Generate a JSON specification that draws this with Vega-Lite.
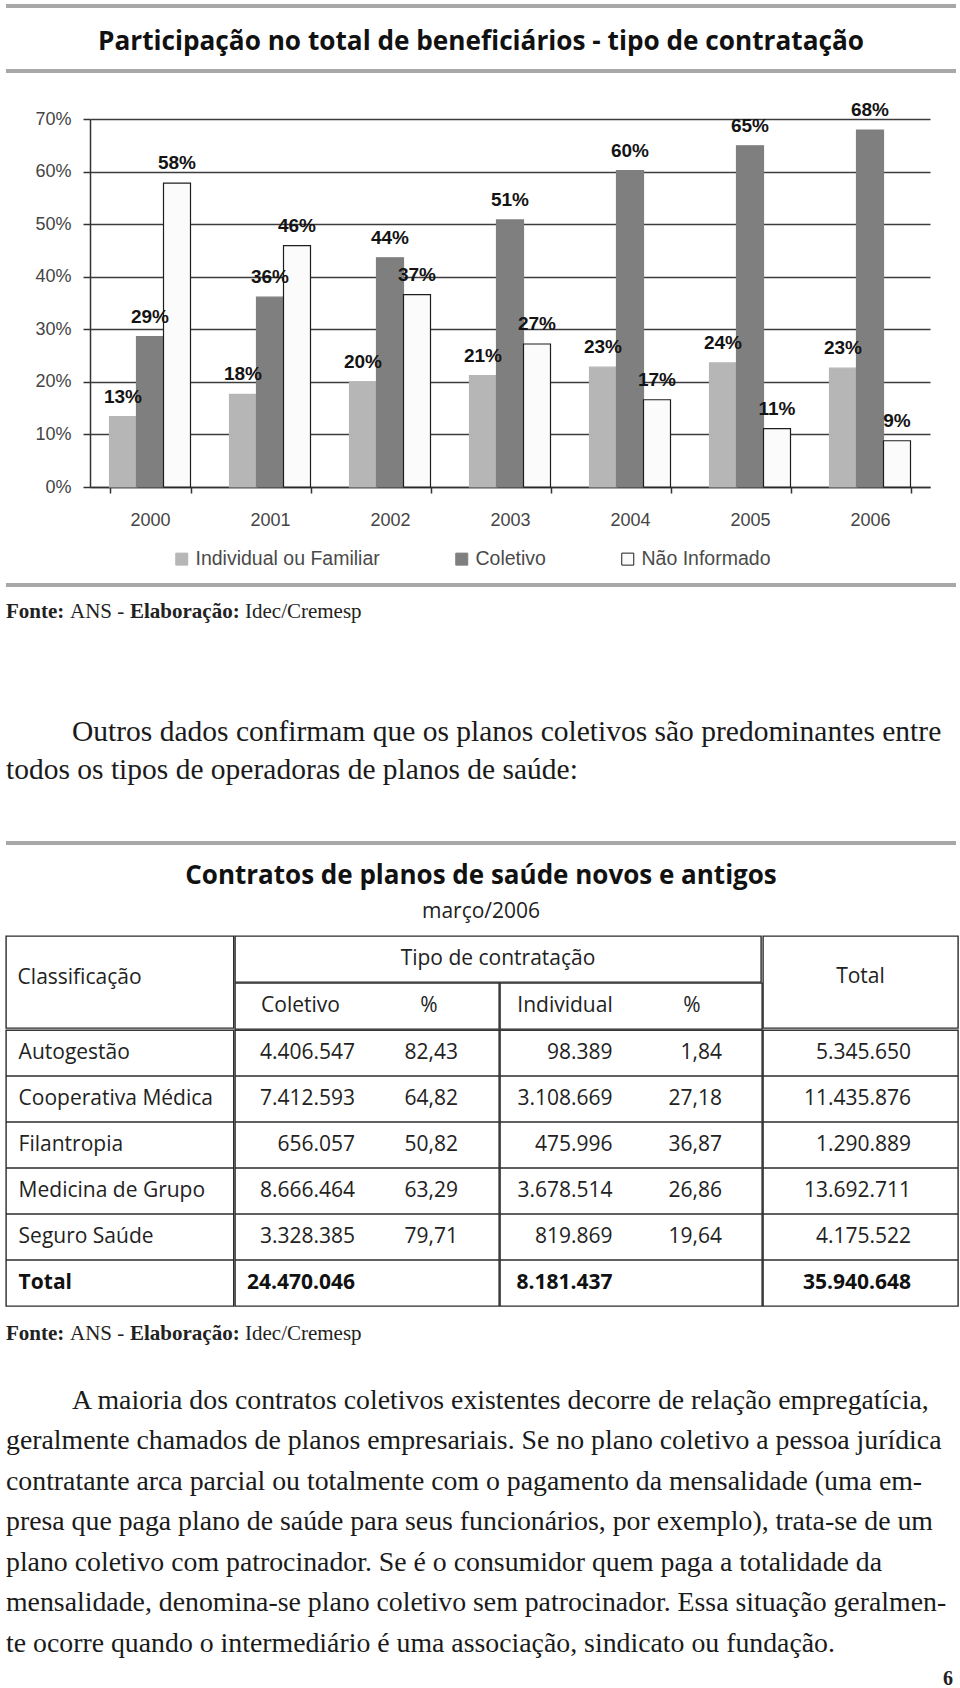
{
  "$schema": "https://vega.github.io/schema/vega-lite/v6.json",
  "background": "white",
  "padding": {"left": 5, "top": 4, "right": 5, "bottom": 0},
  "autosize": {"type": "pad"},
  "spacing": 0,
  "datasets": {
    "titulos": [
      {"id": "grafico", "texto": "Participação no total de beneficiários - tipo de contratação"},
      {"id": "tabela", "texto": "Contratos de planos de saúde novos e antigos"},
      {"id": "periodo", "texto": "março/2006"},
      {"id": "pagina", "texto": "6"}
    ],
    "barras": [
      {"ano": "2000", "tipo": "Individual ou Familiar", "valor": 0.134},
      {"ano": "2000", "tipo": "Coletivo", "valor": 0.286},
      {"ano": "2000", "tipo": "Não Informado", "valor": 0.578},
      {"ano": "2001", "tipo": "Individual ou Familiar", "valor": 0.176},
      {"ano": "2001", "tipo": "Coletivo", "valor": 0.361},
      {"ano": "2001", "tipo": "Não Informado", "valor": 0.459},
      {"ano": "2002", "tipo": "Individual ou Familiar", "valor": 0.2},
      {"ano": "2002", "tipo": "Coletivo", "valor": 0.436},
      {"ano": "2002", "tipo": "Não Informado", "valor": 0.366},
      {"ano": "2003", "tipo": "Individual ou Familiar", "valor": 0.212},
      {"ano": "2003", "tipo": "Coletivo", "valor": 0.508},
      {"ano": "2003", "tipo": "Não Informado", "valor": 0.272},
      {"ano": "2004", "tipo": "Individual ou Familiar", "valor": 0.228},
      {"ano": "2004", "tipo": "Coletivo", "valor": 0.602},
      {"ano": "2004", "tipo": "Não Informado", "valor": 0.166},
      {"ano": "2005", "tipo": "Individual ou Familiar", "valor": 0.236},
      {"ano": "2005", "tipo": "Coletivo", "valor": 0.649},
      {"ano": "2005", "tipo": "Não Informado", "valor": 0.111},
      {"ano": "2006", "tipo": "Individual ou Familiar", "valor": 0.226},
      {"ano": "2006", "tipo": "Coletivo", "valor": 0.679},
      {"ano": "2006", "tipo": "Não Informado", "valor": 0.088}
    ],
    "fonte": [
      {"parte": "rotulo1", "texto": "Fonte:"},
      {"parte": "valor1", "texto": "ANS -"},
      {"parte": "rotulo2", "texto": "Elaboração:"},
      {"parte": "valor2", "texto": "Idec/Cremesp"}
    ],
    "texto": [
      {"bloco": "p1", "linha": 1, "inicio": "parágrafo", "texto": "Outros dados confirmam que os planos coletivos são predominantes entre"},
      {"bloco": "p1", "linha": 2, "inicio": "continuação", "texto": "todos os tipos de operadoras de planos de saúde:"},
      {"bloco": "p2", "linha": 1, "inicio": "parágrafo", "texto": "A maioria dos contratos coletivos existentes decorre de relação empregatícia,"},
      {"bloco": "p2", "linha": 2, "inicio": "continuação", "texto": "geralmente chamados de planos empresariais. Se no plano coletivo a pessoa jurídica"},
      {"bloco": "p2", "linha": 3, "inicio": "continuação", "texto": "contratante arca parcial ou totalmente com o pagamento da mensalidade (uma em-"},
      {"bloco": "p2", "linha": 4, "inicio": "continuação", "texto": "presa que paga plano de saúde para seus funcionários, por exemplo), trata-se de um"},
      {"bloco": "p2", "linha": 5, "inicio": "continuação", "texto": "plano coletivo com patrocinador. Se é o consumidor quem paga a totalidade da"},
      {"bloco": "p2", "linha": 6, "inicio": "continuação", "texto": "mensalidade, denomina-se plano coletivo sem patrocinador. Essa situação geralmen-"},
      {"bloco": "p2", "linha": 7, "inicio": "continuação", "texto": "te ocorre quando o intermediário é uma associação, sindicato ou fundação."}
    ],
    "cabecalho": [
      {"campo": "classificacao", "rotulo": "Classificação"},
      {"campo": "tipo", "rotulo": "Tipo de contratação"},
      {"campo": "coletivo", "rotulo": "Coletivo"},
      {"campo": "pct_coletivo", "rotulo": "%"},
      {"campo": "individual", "rotulo": "Individual"},
      {"campo": "pct_individual", "rotulo": "%"},
      {"campo": "total", "rotulo": "Total"}
    ],
    "tabela": [
      {"classe": "Autogestão", "coletivo": 4406547, "pct_coletivo": 82.43, "individual": 98389, "pct_individual": 1.84, "total": 5345650},
      {"classe": "Cooperativa Médica", "coletivo": 7412593, "pct_coletivo": 64.82, "individual": 3108669, "pct_individual": 27.18, "total": 11435876},
      {"classe": "Filantropia", "coletivo": 656057, "pct_coletivo": 50.82, "individual": 475996, "pct_individual": 36.87, "total": 1290889},
      {"classe": "Medicina de Grupo", "coletivo": 8666464, "pct_coletivo": 63.29, "individual": 3678514, "pct_individual": 26.86, "total": 13692711},
      {"classe": "Seguro Saúde", "coletivo": 3328385, "pct_coletivo": 79.71, "individual": 819869, "pct_individual": 19.64, "total": 4175522},
      {"classe": "Total", "coletivo": 24470046, "pct_coletivo": null, "individual": 8181437, "pct_individual": null, "total": 35940648}
    ]
  },
  "vconcat": [
    {"width": 950, "height": 4, "view": {"fill": "#a8a8a8", "stroke": null}, "data": {"values": []}, "mark": "point"},
    {
      "width": 950, "height": 61,
      "data": {"name": "titulos"},
      "transform": [{"filter": "datum.id === 'grafico'"}],
      "mark": {"type": "text", "font": "Open Sans", "fontWeight": "bold", "fontSize": 26.2, "baseline": "alphabetic", "dy": 11.5, "color": "#111111"},
      "encoding": {"text": {"field": "texto", "type": "nominal"}}
    },
    {"width": 950, "height": 4, "view": {"fill": "#a8a8a8", "stroke": null}, "data": {"values": []}, "mark": "point"},
    {
      "width": 950, "height": 510,
      "data": {"name": "barras"},
      "encoding": {
        "x": {
          "field": "ano", "type": "nominal",
          "scale": {"range": [84, 924], "paddingInner": 0.325, "paddingOuter": 0.1625},
          "axis": {"title": null, "offset": -96, "labelAngle": 0, "labelFont": "Liberation Sans", "labelFontSize": 18, "labelColor": "#454545", "labelPadding": 18, "tickBand": "extent", "tickSize": 6, "tickColor": "#333333", "tickWidth": 1.5, "domainColor": "#333333", "domainWidth": 1.5, "grid": false}
        },
        "xOffset": {
          "field": "tipo", "type": "nominal",
          "scale": {"domain": ["Individual ou Familiar", "Coletivo", "Não Informado"], "paddingInner": 0, "paddingOuter": 0}
        },
        "y": {
          "field": "valor", "type": "quantitative",
          "scale": {"domain": [0, 0.7], "nice": false, "range": [414, 46]},
          "axis": {"title": null, "offset": -84, "format": ".0%", "values": [0, 0.1, 0.2, 0.3, 0.4, 0.5, 0.6, 0.7], "labelFont": "Liberation Sans", "labelFontSize": 18, "labelColor": "#454545", "labelPadding": 12, "tickSize": 7, "tickColor": "#333333", "tickWidth": 1.5, "domainColor": "#333333", "domainWidth": 1.5, "grid": true, "gridColor": "#3c3c3c", "gridWidth": 1.3}
        }
      },
      "layer": [
        {
          "mark": {"type": "bar", "strokeWidth": 1.2},
          "encoding": {
            "color": {
              "field": "tipo", "type": "nominal",
              "scale": {"domain": ["Individual ou Familiar", "Coletivo", "Não Informado"], "range": ["#b6b6b6", "#7f7f7f", "#fbfbfb"]},
              "legend": {"title": null, "orient": "none", "legendX": 166, "legendY": 545, "direction": "horizontal", "padding": 0, "symbolType": "square", "symbolSize": 144, "symbolStrokeWidth": 1, "labelFont": "Liberation Sans", "labelFontSize": 19.5, "labelColor": "#4a4a4a", "labelOffset": 4, "labelLimit": 400, "columnPadding": 72}
            },
            "stroke": {
              "field": "tipo", "type": "nominal",
              "scale": {"domain": ["Individual ou Familiar", "Coletivo", "Não Informado"], "range": ["#b6b6b6", "#7f7f7f", "#1e1e1e"]},
              "legend": {"title": null, "orient": "none", "legendX": 166, "legendY": 545, "direction": "horizontal", "padding": 0, "symbolType": "square", "symbolSize": 144, "symbolStrokeWidth": 1, "labelFont": "Liberation Sans", "labelFontSize": 19.5, "labelColor": "#4a4a4a", "labelOffset": 4, "labelLimit": 400, "columnPadding": 72}
            }
          }
        },
        {
          "mark": {"type": "text", "font": "Liberation Sans", "fontWeight": "bold", "fontSize": 19, "baseline": "alphabetic", "dy": -14, "color": "#141414"},
          "encoding": {"text": {"field": "valor", "type": "quantitative", "format": ".0%"}}
        }
      ]
    },
    {"width": 950, "height": 4, "view": {"fill": "#a8a8a8", "stroke": null}, "data": {"values": []}, "mark": "point"},
    {
      "spacing": 0,
      "hconcat": [
        {"width": 63.6, "height": 53, "data": {"name": "fonte"}, "transform": [{"filter": "datum.parte === 'rotulo1'"}], "mark": {"type": "text", "font": "Liberation Serif", "fontSize": 21, "fontWeight": "bold", "align": "left", "baseline": "alphabetic", "dy": 4, "color": "#222222"}, "encoding": {"text": {"field": "texto", "type": "nominal"}, "x": {"field": "parte", "type": "nominal", "scale": {"type": "point", "range": [0, 0]}, "axis": null}}},
        {"width": 59.5, "height": 53, "data": {"name": "fonte"}, "transform": [{"filter": "datum.parte === 'valor1'"}], "mark": {"type": "text", "font": "Liberation Serif", "fontSize": 21, "align": "left", "baseline": "alphabetic", "dy": 4, "color": "#222222"}, "encoding": {"text": {"field": "texto", "type": "nominal"}, "x": {"field": "parte", "type": "nominal", "scale": {"type": "point", "range": [0, 0]}, "axis": null}}},
        {"width": 114.9, "height": 53, "data": {"name": "fonte"}, "transform": [{"filter": "datum.parte === 'rotulo2'"}], "mark": {"type": "text", "font": "Liberation Serif", "fontSize": 21, "fontWeight": "bold", "align": "left", "baseline": "alphabetic", "dy": 4, "color": "#222222"}, "encoding": {"text": {"field": "texto", "type": "nominal"}, "x": {"field": "parte", "type": "nominal", "scale": {"type": "point", "range": [0, 0]}, "axis": null}}},
        {"width": 116.6, "height": 53, "data": {"name": "fonte"}, "transform": [{"filter": "datum.parte === 'valor2'"}], "mark": {"type": "text", "font": "Liberation Serif", "fontSize": 21, "align": "left", "baseline": "alphabetic", "dy": 4, "color": "#222222"}, "encoding": {"text": {"field": "texto", "type": "nominal"}, "x": {"field": "parte", "type": "nominal", "scale": {"type": "point", "range": [0, 0]}, "axis": null}}}
      ]
    },
    {"width": 950, "height": 72, "data": {"values": []}, "mark": "point"},
    {
      "width": 950, "height": 77,
      "data": {"name": "texto"},
      "transform": [{"filter": "datum.bloco === 'p1'"}],
      "mark": {"type": "text", "font": "Liberation Serif", "fontSize": 29.5, "align": "left", "baseline": "alphabetic", "dy": 9.5, "color": "#1a1a1a"},
      "encoding": {
        "text": {"field": "texto", "type": "nominal"},
        "x": {"field": "inicio", "type": "nominal", "scale": {"type": "point", "domain": ["continuação", "parágrafo"], "range": [0, 66], "padding": 0}, "axis": null},
        "y": {"field": "linha", "type": "ordinal", "scale": {"type": "band", "paddingInner": 0, "paddingOuter": 0}, "axis": null}
      }
    },
    {"width": 950, "height": 52, "data": {"values": []}, "mark": "point"},
    {"width": 950, "height": 4, "view": {"fill": "#a8a8a8", "stroke": null}, "data": {"values": []}, "mark": "point"},
    {
      "width": 950, "height": 52,
      "data": {"name": "titulos"},
      "transform": [{"filter": "datum.id === 'tabela'"}],
      "mark": {"type": "text", "font": "Open Sans", "fontWeight": "bold", "fontSize": 26, "baseline": "alphabetic", "dy": 13, "color": "#111111"},
      "encoding": {"text": {"field": "texto", "type": "nominal"}}
    },
    {
      "width": 950, "height": 37.6,
      "data": {"name": "titulos"},
      "transform": [{"filter": "datum.id === 'periodo'"}],
      "mark": {"type": "text", "font": "Open Sans", "fontSize": 21, "baseline": "alphabetic", "dy": 1.8, "color": "#222222"},
      "encoding": {"text": {"field": "texto", "type": "nominal"}}
    },
    {
      "spacing": -2.8,
      "vconcat": [
        {
          "spacing": -2.8,
          "hconcat": [
            {
              "width": 227.6, "height": 92,
              "view": {"stroke": "#2b2b2b", "strokeWidth": 1.4},
              "data": {"name": "cabecalho"},
              "transform": [{"filter": "datum.campo === 'classificacao'"}],
              "mark": {"type": "text", "font": "Open Sans", "fontSize": 21, "align": "left", "baseline": "middle", "dy": -4, "color": "#222222"},
              "encoding": {"text": {"field": "rotulo", "type": "nominal"}, "x": {"field": "campo", "type": "nominal", "scale": {"type": "point", "range": [11.6, 11.6]}, "axis": null}}
            },
            {
              "spacing": -2.8,
              "vconcat": [
                {
                  "width": 526, "height": 46,
                  "view": {"stroke": "#2b2b2b", "strokeWidth": 1.4},
                  "data": {"name": "cabecalho"},
                  "transform": [{"filter": "datum.campo === 'tipo'"}],
                  "mark": {"type": "text", "font": "Open Sans", "fontSize": 21, "baseline": "middle", "color": "#222222"},
                  "encoding": {"text": {"field": "rotulo", "type": "nominal"}}
                },
                {
                  "spacing": -2.8,
                  "hconcat": [
                    {
                      "width": 264, "height": 46,
                      "view": {"stroke": "#2b2b2b", "strokeWidth": 1.4},
                      "data": {"name": "cabecalho"},
                      "transform": [{"filter": "datum.campo === 'coletivo' || datum.campo === 'pct_coletivo'"}],
                      "mark": {"type": "text", "font": "Open Sans", "fontSize": 21, "baseline": "middle", "color": "#222222"},
                      "encoding": {"text": {"field": "rotulo", "type": "nominal"}, "x": {"field": "campo", "type": "nominal", "scale": {"type": "point", "domain": ["coletivo", "pct_coletivo"], "range": [65.5, 194], "padding": 0}, "axis": null}}
                    },
                    {
                      "width": 262, "height": 46,
                      "view": {"stroke": "#2b2b2b", "strokeWidth": 1.4},
                      "data": {"name": "cabecalho"},
                      "transform": [{"filter": "datum.campo === 'individual' || datum.campo === 'pct_individual'"}],
                      "mark": {"type": "text", "font": "Open Sans", "fontSize": 21, "baseline": "middle", "color": "#222222"},
                      "encoding": {"text": {"field": "rotulo", "type": "nominal"}, "x": {"field": "campo", "type": "nominal", "scale": {"type": "point", "domain": ["individual", "pct_individual"], "range": [65, 192], "padding": 0}, "axis": null}}
                    }
                  ]
                }
              ]
            },
            {
              "width": 195, "height": 92,
              "view": {"stroke": "#2b2b2b", "strokeWidth": 1.4},
              "data": {"name": "cabecalho"},
              "transform": [{"filter": "datum.campo === 'total'"}],
              "mark": {"type": "text", "font": "Open Sans", "fontSize": 21, "baseline": "middle", "dy": -5, "color": "#222222"},
              "encoding": {"text": {"field": "rotulo", "type": "nominal"}}
            }
          ]
        },
        {
          "spacing": -2.8,
          "hconcat": [
            {
              "width": 227.6, "height": 276,
              "view": {"stroke": "#2b2b2b", "strokeWidth": 1.4},
              "data": {"name": "tabela"},
              "encoding": {"y": {"field": "classe", "type": "nominal", "scale": {"domain": ["Autogestão", "Cooperativa Médica", "Filantropia", "Medicina de Grupo", "Seguro Saúde", "Total"], "paddingInner": 0, "paddingOuter": 0}, "axis": null}},
              "layer": [
                {"mark": {"type": "rule", "color": "#2b2b2b", "strokeWidth": 1.4, "clip": true}, "encoding": {"y": {"field": "classe", "type": "nominal", "bandPosition": 0, "scale": {"domain": ["Autogestão", "Cooperativa Médica", "Filantropia", "Medicina de Grupo", "Seguro Saúde", "Total"], "paddingInner": 0, "paddingOuter": 0}, "axis": null}}},
                {"transform": [{"filter": "datum.classe !== 'Total'"}], "mark": {"type": "text", "font": "Open Sans", "fontSize": 21, "align": "left", "baseline": "middle", "color": "#222222"}, "encoding": {"text": {"field": "classe", "type": "nominal"}, "x": {"datum": "classe", "type": "nominal", "scale": {"type": "point", "range": [12.6, 12.6]}, "axis": null}}},
                {"transform": [{"filter": "datum.classe === 'Total'"}], "mark": {"type": "text", "font": "Open Sans", "fontWeight": "bold", "fontSize": 21, "align": "left", "baseline": "middle", "color": "#111111"}, "encoding": {"text": {"field": "classe", "type": "nominal"}, "x": {"datum": "classe", "type": "nominal", "scale": {"type": "point", "range": [12.6, 12.6]}, "axis": null}}}
              ]
            },
            {
              "width": 264, "height": 276,
              "view": {"stroke": "#2b2b2b", "strokeWidth": 1.4},
              "data": {"name": "tabela"},
              "encoding": {"y": {"field": "classe", "type": "nominal", "scale": {"domain": ["Autogestão", "Cooperativa Médica", "Filantropia", "Medicina de Grupo", "Seguro Saúde", "Total"], "paddingInner": 0, "paddingOuter": 0}, "axis": null}},
              "layer": [
                {"mark": {"type": "rule", "color": "#2b2b2b", "strokeWidth": 1.4, "clip": true}, "encoding": {"y": {"field": "classe", "type": "nominal", "bandPosition": 0, "scale": {"domain": ["Autogestão", "Cooperativa Médica", "Filantropia", "Medicina de Grupo", "Seguro Saúde", "Total"], "paddingInner": 0, "paddingOuter": 0}, "axis": null}}},
                {"transform": [{"filter": "datum.classe !== 'Total'"}], "mark": {"type": "text", "font": "Open Sans", "fontSize": 21, "align": "right", "baseline": "middle", "color": "#222222"}, "encoding": {"text": {"field": "coletivo", "type": "quantitative", "format": ",d"}, "x": {"datum": "coletivo", "type": "nominal", "scale": {"type": "point", "domain": ["coletivo", "pct_coletivo"], "range": [120, 223], "padding": 0}, "axis": null}}},
                {"transform": [{"filter": "datum.classe === 'Total'"}], "mark": {"type": "text", "font": "Open Sans", "fontWeight": "bold", "fontSize": 21, "align": "right", "baseline": "middle", "color": "#111111"}, "encoding": {"text": {"field": "coletivo", "type": "quantitative", "format": ",d"}, "x": {"datum": "coletivo", "type": "nominal", "scale": {"type": "point", "domain": ["coletivo", "pct_coletivo"], "range": [120, 223], "padding": 0}, "axis": null}}},
                {"transform": [{"filter": "datum.classe !== 'Total'"}], "mark": {"type": "text", "font": "Open Sans", "fontSize": 21, "align": "right", "baseline": "middle", "color": "#222222"}, "encoding": {"text": {"field": "pct_coletivo", "type": "quantitative", "format": ".2f"}, "x": {"datum": "pct_coletivo", "type": "nominal", "scale": {"type": "point", "domain": ["coletivo", "pct_coletivo"], "range": [120, 223], "padding": 0}, "axis": null}}}
              ]
            },
            {
              "width": 262, "height": 276,
              "view": {"stroke": "#2b2b2b", "strokeWidth": 1.4},
              "data": {"name": "tabela"},
              "encoding": {"y": {"field": "classe", "type": "nominal", "scale": {"domain": ["Autogestão", "Cooperativa Médica", "Filantropia", "Medicina de Grupo", "Seguro Saúde", "Total"], "paddingInner": 0, "paddingOuter": 0}, "axis": null}},
              "layer": [
                {"mark": {"type": "rule", "color": "#2b2b2b", "strokeWidth": 1.4, "clip": true}, "encoding": {"y": {"field": "classe", "type": "nominal", "bandPosition": 0, "scale": {"domain": ["Autogestão", "Cooperativa Médica", "Filantropia", "Medicina de Grupo", "Seguro Saúde", "Total"], "paddingInner": 0, "paddingOuter": 0}, "axis": null}}},
                {"transform": [{"filter": "datum.classe !== 'Total'"}], "mark": {"type": "text", "font": "Open Sans", "fontSize": 21, "align": "right", "baseline": "middle", "color": "#222222"}, "encoding": {"text": {"field": "individual", "type": "quantitative", "format": ",d"}, "x": {"datum": "individual", "type": "nominal", "scale": {"type": "point", "domain": ["individual", "pct_individual"], "range": [112.5, 222], "padding": 0}, "axis": null}}},
                {"transform": [{"filter": "datum.classe === 'Total'"}], "mark": {"type": "text", "font": "Open Sans", "fontWeight": "bold", "fontSize": 21, "align": "right", "baseline": "middle", "color": "#111111"}, "encoding": {"text": {"field": "individual", "type": "quantitative", "format": ",d"}, "x": {"datum": "individual", "type": "nominal", "scale": {"type": "point", "domain": ["individual", "pct_individual"], "range": [112.5, 222], "padding": 0}, "axis": null}}},
                {"transform": [{"filter": "datum.classe !== 'Total'"}], "mark": {"type": "text", "font": "Open Sans", "fontSize": 21, "align": "right", "baseline": "middle", "color": "#222222"}, "encoding": {"text": {"field": "pct_individual", "type": "quantitative", "format": ".2f"}, "x": {"datum": "pct_individual", "type": "nominal", "scale": {"type": "point", "domain": ["individual", "pct_individual"], "range": [112.5, 222], "padding": 0}, "axis": null}}}
              ]
            },
            {
              "width": 195, "height": 276,
              "view": {"stroke": "#2b2b2b", "strokeWidth": 1.4},
              "data": {"name": "tabela"},
              "encoding": {"y": {"field": "classe", "type": "nominal", "scale": {"domain": ["Autogestão", "Cooperativa Médica", "Filantropia", "Medicina de Grupo", "Seguro Saúde", "Total"], "paddingInner": 0, "paddingOuter": 0}, "axis": null}},
              "layer": [
                {"mark": {"type": "rule", "color": "#2b2b2b", "strokeWidth": 1.4, "clip": true}, "encoding": {"y": {"field": "classe", "type": "nominal", "bandPosition": 0, "scale": {"domain": ["Autogestão", "Cooperativa Médica", "Filantropia", "Medicina de Grupo", "Seguro Saúde", "Total"], "paddingInner": 0, "paddingOuter": 0}, "axis": null}}},
                {"transform": [{"filter": "datum.classe !== 'Total'"}], "mark": {"type": "text", "font": "Open Sans", "fontSize": 21, "align": "right", "baseline": "middle", "color": "#222222"}, "encoding": {"text": {"field": "total", "type": "quantitative", "format": ",d"}, "x": {"datum": "total", "type": "nominal", "scale": {"type": "point", "range": [148, 148]}, "axis": null}}},
                {"transform": [{"filter": "datum.classe === 'Total'"}], "mark": {"type": "text", "font": "Open Sans", "fontWeight": "bold", "fontSize": 21, "align": "right", "baseline": "middle", "color": "#111111"}, "encoding": {"text": {"field": "total", "type": "quantitative", "format": ",d"}, "x": {"datum": "total", "type": "nominal", "scale": {"type": "point", "range": [148, 148]}, "axis": null}}}
              ]
            }
          ]
        }
      ]
    },
    {
      "spacing": 0,
      "hconcat": [
        {"width": 63.6, "height": 54.6, "data": {"name": "fonte"}, "transform": [{"filter": "datum.parte === 'rotulo1'"}], "mark": {"type": "text", "font": "Liberation Serif", "fontSize": 21, "fontWeight": "bold", "align": "left", "baseline": "alphabetic", "dy": 5.3, "color": "#222222"}, "encoding": {"text": {"field": "texto", "type": "nominal"}, "x": {"field": "parte", "type": "nominal", "scale": {"type": "point", "range": [0, 0]}, "axis": null}}},
        {"width": 59.5, "height": 54.6, "data": {"name": "fonte"}, "transform": [{"filter": "datum.parte === 'valor1'"}], "mark": {"type": "text", "font": "Liberation Serif", "fontSize": 21, "align": "left", "baseline": "alphabetic", "dy": 5.3, "color": "#222222"}, "encoding": {"text": {"field": "texto", "type": "nominal"}, "x": {"field": "parte", "type": "nominal", "scale": {"type": "point", "range": [0, 0]}, "axis": null}}},
        {"width": 114.9, "height": 54.6, "data": {"name": "fonte"}, "transform": [{"filter": "datum.parte === 'rotulo2'"}], "mark": {"type": "text", "font": "Liberation Serif", "fontSize": 21, "fontWeight": "bold", "align": "left", "baseline": "alphabetic", "dy": 5.3, "color": "#222222"}, "encoding": {"text": {"field": "texto", "type": "nominal"}, "x": {"field": "parte", "type": "nominal", "scale": {"type": "point", "range": [0, 0]}, "axis": null}}},
        {"width": 116.6, "height": 54.6, "data": {"name": "fonte"}, "transform": [{"filter": "datum.parte === 'valor2'"}], "mark": {"type": "text", "font": "Liberation Serif", "fontSize": 21, "align": "left", "baseline": "alphabetic", "dy": 5.3, "color": "#222222"}, "encoding": {"text": {"field": "texto", "type": "nominal"}, "x": {"field": "parte", "type": "nominal", "scale": {"type": "point", "range": [0, 0]}, "axis": null}}}
      ]
    },
    {"width": 950, "height": 17, "data": {"values": []}, "mark": "point"},
    {
      "width": 950, "height": 283.5,
      "data": {"name": "texto"},
      "transform": [{"filter": "datum.bloco === 'p2'"}],
      "mark": {"type": "text", "font": "Liberation Serif", "fontSize": 27.8, "align": "left", "baseline": "alphabetic", "dy": 9.5, "color": "#1a1a1a"},
      "encoding": {
        "text": {"field": "texto", "type": "nominal"},
        "x": {"field": "inicio", "type": "nominal", "scale": {"type": "point", "domain": ["continuação", "parágrafo"], "range": [0, 66], "padding": 0}, "axis": null},
        "y": {"field": "linha", "type": "ordinal", "scale": {"type": "band", "paddingInner": 0, "paddingOuter": 0}, "axis": null}
      }
    },
    {
      "width": 950, "height": 27.5,
      "data": {"name": "titulos"},
      "transform": [{"filter": "datum.id === 'pagina'"}],
      "mark": {"type": "text", "font": "Liberation Serif", "fontWeight": "bold", "fontSize": 20, "align": "right", "baseline": "alphabetic", "dy": 8.5, "color": "#222222"},
      "encoding": {"text": {"field": "texto", "type": "nominal"}, "x": {"field": "id", "type": "nominal", "scale": {"type": "point", "range": [947, 947]}, "axis": null}}
    }
  ],
  "config": {
    "view": {"stroke": null},
    "concat": {"spacing": 0},
    "locale": {"number": {"decimal": ",", "thousands": ".", "grouping": [3], "currency": ["R$", ""]}}
  }
}
